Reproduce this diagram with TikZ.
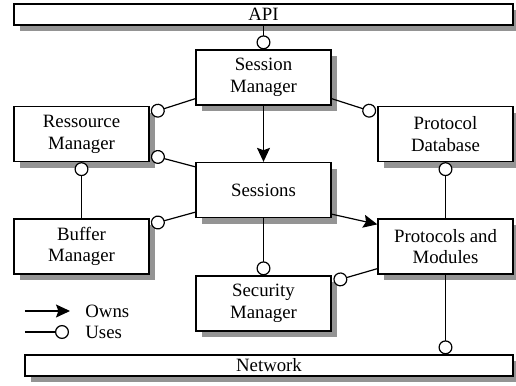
\documentclass[tikz,border=0pt]{standalone}
\usepackage{fontspec}
\setmainfont{Liberation Serif}
\usetikzlibrary{arrows.meta,shadows}

\begin{document}
\begin{tikzpicture}
[
	x=0.5pt,y=-0.5pt,
	font=\fontsize{9.4}{10.9}\selectfont,
	block/.style={draw,fill=white,line width=0.65pt,align=center,inner sep=0pt,minimum width=67.5pt,minimum height=27.5pt,drop shadow={shadow xshift=3pt,shadow yshift=-3pt,fill=black!42,opacity=1}},
	bar/.style={block,minimum height=10.5pt},
	owns/.style={-{Stealth[length=7pt,width=6.5pt,inset=1.2pt]},line width=0.6pt},
	uses/.style={-{Circle[length=7pt,fill=white]},line width=0.6pt}
]

	\useasboundingbox (0,0) rectangle (516,386);

	% bars
	\node[bar,minimum width=249.5pt] (api) at (263.5,14.5) {API};
	\node[bar,minimum width=244pt] (net) at (269,365.5) {Network};

	% blocks
	\node[block] (sm) at (263.5,77.5) {Session\\Manager};
	\node[block] (rm) at (81.5,134) {Ressource\\Manager};
	\node[block] (pd) at (445.5,134) {Protocol\\Database};
	\node[block] (ss) at (263.5,190) {Sessions};
	\node[block] (bm) at (81.5,246.5) {Buffer\\Manager};
	\node[block] (pm) at (445.5,246.5) {Protocols and\\Modules};
	\node[block] (sec) at (263.5,303.5) {Security\\Manager};

	% uses
	\draw[uses] (api) -- (sm);
	\draw[uses] ([shift={(0,-7)}]sm.south west) -- ([shift={(1.5,7)}]rm.north east);
	\draw[uses] ([shift={(0,-7)}]sm.south east) -- ([shift={(-1.5,7)}]pd.north west);
	\draw[uses] ([shift={(0,5)}]ss.north west) -- ([shift={(1.5,-7)}]rm.south east);
	\draw[uses] ([shift={(0,-6)}]ss.south west) -- ([shift={(1.5,6)}]bm.north east);
	\draw[uses] (bm) -- (rm);
	\draw[uses] (pm) -- (pd);
	\draw[uses] (ss) -- (sec);
	\draw[uses] ([shift={(0,-6)}]pm.south west) -- ([shift={(2,6)}]sec.north east);
	\draw[uses] (pm.south) -- (pm.south |- net.north);

	% owns
	\draw[owns] (sm) -- (ss);
	\draw[owns] ([shift={(0,-4)}]ss.south east) -- ([shift={(0,6)}]pm.north west);

	% legend
	\coordinate (ownsA) at (25,311);
	\coordinate (ownsB) at (70,311);
	\coordinate (usesA) at (25,332);
	\coordinate (usesB) at (69,332);
	\draw[owns] (ownsA) -- (ownsB);
	\draw[uses] (usesA) -- (usesB);
	\node[anchor=west,inner sep=0pt] (ownstxt) at (85,311) {Owns};
	\node[anchor=west,inner sep=0pt] (usestxt) at (85,332) {Uses};

\end{tikzpicture}
\end{document}
